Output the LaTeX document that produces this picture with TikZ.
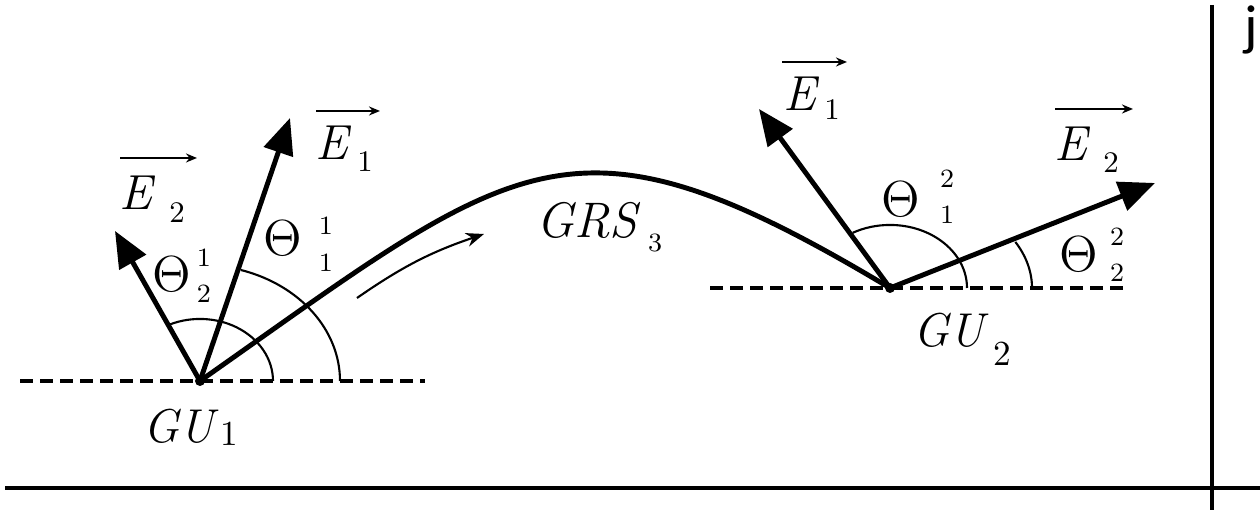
\documentclass[tikz,border=0pt]{standalone}
\usepackage{fontspec}
\newfontfamily\jfont{Carlito}
\usetikzlibrary{arrows.meta}
\tikzset{
  vec/.style={-{Triangle[length=3.6mm,width=3mm]}, line width=1.4pt},
  path3/.style={line width=1.4pt},
  ground/.style={line width=0.9pt, dash pattern=on 0.13cm off 0.07cm},
  angarc/.style={line width=0.6pt},
  vecbar/.style={-{Stealth[length=1.1mm,width=0.9mm]}, line width=0.6pt},
  motion/.style={-{Stealth[length=1.8mm,width=1.4mm]}, line width=0.6pt},
  frame/.style={line width=1.2pt},
  letter/.style={inner sep=0pt, font=\fontsize{14}{15}\selectfont\itshape},
  greek/.style={inner sep=0pt, font=\fontsize{14.5}{15}\selectfont},
  idx/.style={inner sep=0pt, font=\fontsize{8.5}{9}\selectfont},
  sidx/.style={inner sep=0pt, font=\fontsize{7.5}{8}\selectfont},
  gu/.style={inner sep=0pt, font=\fontsize{13.5}{14}\selectfont\itshape},
}
\begin{document}
\begin{tikzpicture}[x=0.01cm, y=0.01cm]
  \useasboundingbox (0,0) rectangle (1260,510);
  % frame lines
  \coordinate (bl) at (5,22);
  \coordinate (br) at (1260,22);
  \coordinate (vt) at (1212,505);
  \coordinate (vb) at (1212,0);
  \draw[frame] (bl) -- (br);
  \draw[frame] (vt) -- (vb);
  \node[inner sep=0pt, anchor=north west, font=\jfont\fontsize{16}{18}\selectfont] (jj) at (1244,505) {j};
  % ground units
  \coordinate (g1) at (200,129);
  \coordinate (g2) at (890,222);
  \draw[ground] (20,129) -- (425,129);
  \draw[ground] (710,222) -- (1130,222);
  \fill (g1) circle[radius=0.05cm];
  \fill (g2) circle[radius=0.05cm];
  % relay path
  \draw[path3] (g1) .. controls (520,354) and (570,414) .. (g2);
  \coordinate (m1) at (357,212);
  \coordinate (m2) at (484,276);
  \draw[motion] (m1) to[bend left=8] (m2);
  % field vectors
  \coordinate (t12) at (115,279);
  \coordinate (t11) at (290,392);
  \coordinate (t21) at (759,401);
  \coordinate (t22) at (1155,327);
  \draw[vec] (g1) -- (t12);
  \draw[vec] (g1) -- (t11);
  \draw[vec] (g2) -- (t21);
  \draw[vec] (g2) -- (t22);
  % angles
  \draw[angarc] (273,129) arc[start angle=0, end angle=114, x radius=0.73cm, y radius=0.62cm];
  \draw[angarc] (340,129) arc[start angle=0, end angle=73, x radius=1.4cm, y radius=1.16cm];
  \draw[angarc] (967,222) arc[start angle=0, end angle=119, x radius=0.77cm, y radius=0.63cm];
  \draw[angarc] (1032,222) arc[start angle=0, end angle=28, x radius=1.42cm, y radius=0.98cm];
  % labels at GU1
  \node[letter] (lE12) at (136,317) {E};
  \node[idx] (sE12) at (177,297) {2};
  \draw[vecbar] ([shift={(-16,35)}]lE12.center) -- ++(77,0);
  \node[letter] (lE11) at (332,367) {E};
  \node[idx] (sE11) at (365,348) {1};
  \draw[vecbar] ([shift={(-16,32)}]lE11.center) -- ++(64,0);
  \node[greek] (lT11) at (283,272) {$\Theta$};
  \node[sidx] (pT11) at (326,284) {1};
  \node[sidx] (bT11) at (326,247) {1};
  \node[greek] (lT12) at (172,236) {$\Theta$};
  \node[sidx] (pT12) at (204,252) {1};
  \node[sidx] (bT12) at (204,216) {2};
  \node[gu] (lGU1) at (179,84) {GU};
  \node[idx, font=\fontsize{10}{11}\selectfont] (sGU1) at (229,76) {1};
  % relay label
  \node[letter, font=\fontsize{14.2}{15}\selectfont\itshape] (lGRS) at (587,290) {GRS};
  \node[sidx] (sGRS) at (655,267) {3};
  % labels at GU2
  \node[letter] (lE21) at (800,416) {E};
  \node[idx] (sE21) at (832,400) {1};
  \draw[vecbar] ([shift={(-18,32)}]lE21.center) -- ++(65,0);
  \node[letter] (lE22) at (1071,366) {E};
  \node[idx] (sE22) at (1111,347) {2};
  \draw[vecbar] ([shift={(-16,35)}]lE22.center) -- ++(78,0);
  \node[greek] (lT21) at (901,311) {$\Theta$};
  \node[sidx] (pT21) at (947,331) {2};
  \node[sidx] (bT21) at (947,295) {1};
  \node[greek] (lT22) at (1079,256) {$\Theta$};
  \node[sidx] (pT22) at (1117,273) {2};
  \node[sidx] (bT22) at (1117,237) {2};
  \node[gu] (lGU2) at (949,180) {GU};
  \node[idx, font=\fontsize{10}{11}\selectfont] (sGU2) at (1002,156) {2};
\end{tikzpicture}
\end{document}
